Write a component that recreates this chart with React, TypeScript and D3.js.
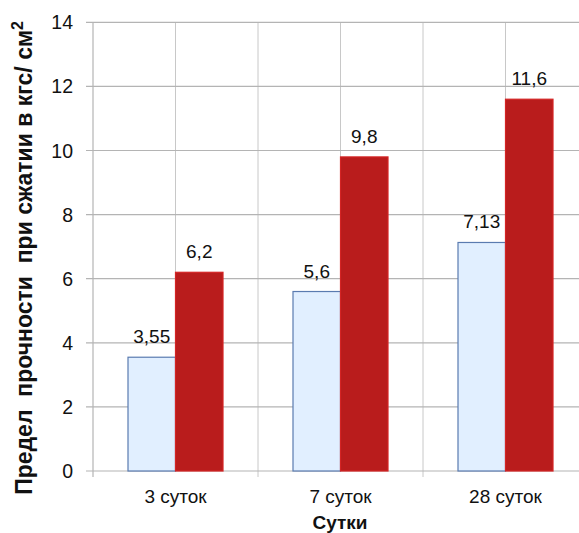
import React from "react";
import * as d3 from "d3";

const categories = ["3 суток", "7 суток", "28 суток"];
const seriesA = [3.55, 5.6, 7.13];
const seriesB = [6.2, 9.8, 11.6];
const labelsA = ["3,55", "5,6", "7,13"];
const labelsB = ["6,2", "9,8", "11,6"];
const yTicks = [0, 2, 4, 6, 8, 10, 12, 14];

const W = 579;
const H = 533;
const left = 93;
const right = 588;
const top = 22.3;
const bottom = 471;
const font = "'Liberation Sans', Arial, sans-serif";

export default function App() {
  const x = d3.scaleBand<string>().domain(categories).range([left, right]).paddingInner(0).paddingOuter(0);
  const y = d3.scaleLinear().domain([0, 14]).range([bottom, top]);
  const bw = 47.5;

  return (
    <svg width={W} height={H} style={{ position: "absolute", left: 0, top: 0, background: "#fff" }}>
      {/* vertical gridlines at category edges and centres */}
      {categories.map((c) => {
        const x0 = x(c)!;
        const xm = x0 + x.bandwidth() / 2;
        return (
          <g key={"v" + c}>
            <line x1={xm} x2={xm} y1={top} y2={bottom} stroke="#c8c8c8" strokeWidth={1} />
            <line x1={x0 + x.bandwidth()} x2={x0 + x.bandwidth()} y1={top} y2={bottom + 6} stroke="#c8c8c8" strokeWidth={1} />
          </g>
        );
      })}
      {/* horizontal gridlines and y ticks */}
      {yTicks.map((t) => (
        <g key={"h" + t}>
          <line x1={left - 7} x2={W} y1={y(t)} y2={y(t)} stroke="#b4b4b4" strokeWidth={1.2} />
          <text x={73} y={y(t)} dy="0.36em" textAnchor="end" fontFamily={font} fontSize={19.5} fill="#111">
            {t}
          </text>
        </g>
      ))}
      <line x1={left} x2={left} y1={top} y2={bottom + 6} stroke="#b4b4b4" strokeWidth={1.2} />

      {/* bars */}
      {categories.map((c, i) => {
        const cx = x(c)! + x.bandwidth() / 2;
        const ya = y(seriesA[i]);
        const yb = y(seriesB[i]);
        return (
          <g key={"b" + c}>
            <rect x={cx - bw} y={ya} width={bw} height={bottom - ya} fill="#e1efff" stroke="#5a7bb0" strokeWidth={1.2} />
            <rect x={cx} y={yb} width={bw} height={bottom - yb} fill="#b91c1c" stroke="#d42424" strokeWidth={1.2} />
            <text x={cx - bw / 2} y={ya - 14} textAnchor="middle" fontFamily={font} fontSize={19} fill="#111">
              {labelsA[i]}
            </text>
            <text x={cx + bw / 2} y={yb - 14} textAnchor="middle" fontFamily={font} fontSize={19} fill="#111">
              {labelsB[i]}
            </text>
            <text x={cx} y={503} textAnchor="middle" fontFamily={font} fontSize={19} fill="#111">
              {c}
            </text>
          </g>
        );
      })}

      {/* axis titles */}
      <text x={340} y={529} textAnchor="middle" fontFamily={font} fontSize={19} fontWeight="bold" fill="#111">
        Сутки
      </text>
      <text
        transform={`translate(32, 258) rotate(-90)`}
        textAnchor="middle"
        fontFamily={font}
        fontSize={23}
        fontWeight="bold"
        fill="#111"
      >
        Предел{"\u00a0\u00a0"}прочности{"\u00a0\u00a0"}при сжатии в кгс/ см
        <tspan dy={-9} fontSize={16}>2</tspan>
      </text>
    </svg>
  );
}
